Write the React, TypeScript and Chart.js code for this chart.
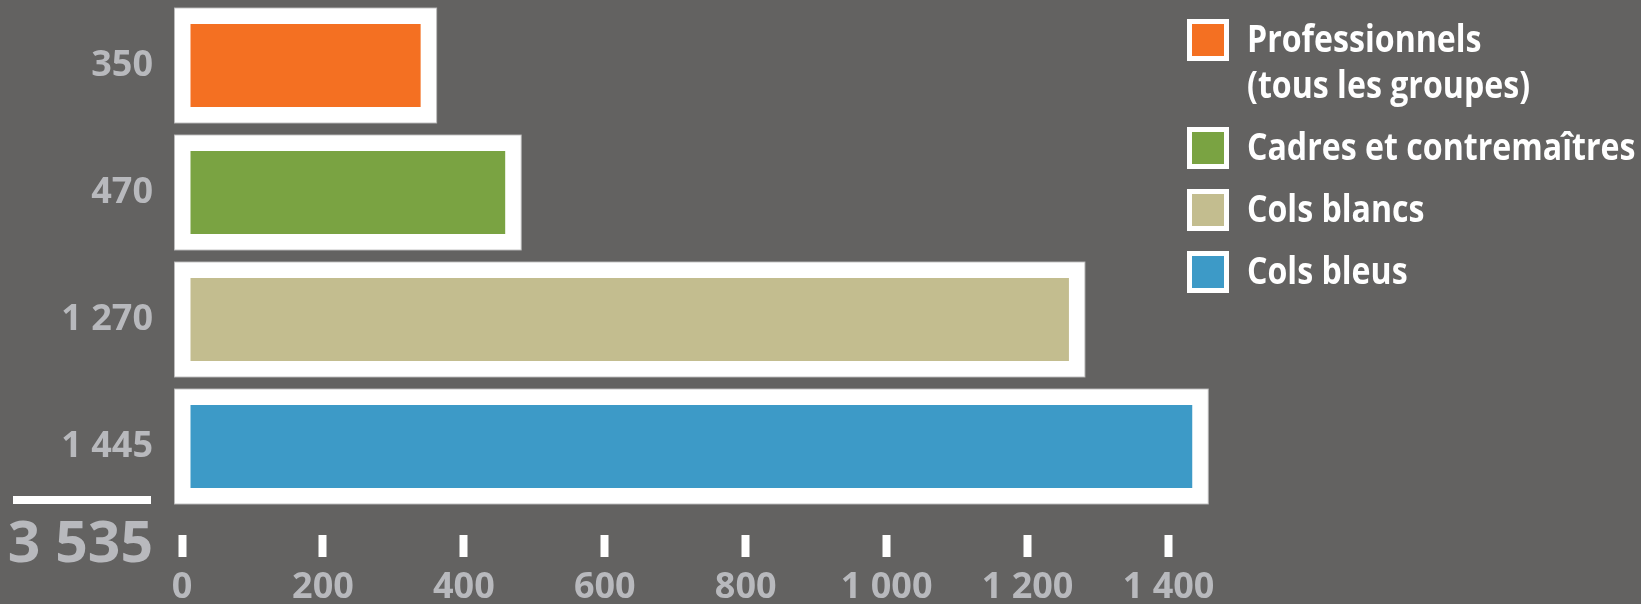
import React, { useEffect, useRef } from "react";
import { Chart, registerables } from "chart.js";

Chart.register(...registerables);

// ---- data ----
const categories = ["Professionnels (tous les groupes)", "Cadres et contremaîtres", "Cols blancs", "Cols bleus"];
const legendLines = [["Professionnels", "(tous les groupes)"], ["Cadres et contremaîtres"], ["Cols blancs"], ["Cols bleus"]];
const values = [350, 470, 1270, 1445];
const barColors = ["#f47022", "#7aa342", "#c3bd8f", "#3d9ac7"];
const xMin = 0;
const xMax = 1500;
const xStep = 200;

const BG = "#636261";
const GRAY = "#b8b9bd";
const FONT = "'Open Sans', 'DejaVu Sans', sans-serif";

const fmt = (n: number) => String(Math.round(n)).replace(/\B(?=(\d{3})+(?!\d))/g, " ");

const barFramePlugin = {
  id: "barFrame",
  afterDatasetsDraw(chart: any) {
    const ctx = chart.ctx;
    const meta = chart.getDatasetMeta(0);
    ctx.save();
    meta.data.forEach((el: any) => {
      const { x, y, base, height } = el.getProps(["x", "y", "base", "height"], true);
      ctx.strokeStyle = "#ffffff";
      ctx.lineWidth = 16;
      ctx.strokeRect(base, y - height / 2, x - base, height);
      ctx.strokeStyle = "rgba(190,190,190,0.9)";
      ctx.lineWidth = 1;
      ctx.strokeRect(base - 8, y - height / 2 - 8, x - base + 16, height + 16);
    });
    ctx.restore();
  },
};

const totalPlugin = {
  id: "totalLabel",
  afterDraw(chart: any) {
    const ctx = chart.ctx;
    const { left, bottom } = chart.chartArea;
    const total = values.reduce((a, b) => a + b, 0);
    ctx.save();
    ctx.fillStyle = "#ffffff";
    ctx.fillRect(left - 169, bottom - 14, 138, 8);
    ctx.fillStyle = GRAY;
    ctx.font = `bold 57px ${FONT}`;
    ctx.textAlign = "right";
    ctx.textBaseline = "middle";
    ctx.fillText(fmt(total), left - 29, bottom + 36);
    ctx.restore();
  },
};

const legendPlugin = {
  id: "customLegend",
  afterDraw(chart: any) {
    const ctx = chart.ctx;
    const boxX = 1187;
    const box = 42;
    const border = 5;
    const textX = 1247;
    const lineH = 46;
    const gap = 62;
    const sx = 0.845;
    let cy = 40;
    ctx.save();
    ctx.font = `bold 38px ${FONT}`;
    ctx.textAlign = "left";
    ctx.textBaseline = "middle";
    legendLines.forEach((lines, i) => {
      ctx.fillStyle = "#ffffff";
      ctx.fillRect(boxX, cy - box / 2, box, box);
      ctx.fillStyle = barColors[i];
      ctx.fillRect(boxX + border, cy - box / 2 + border, box - 2 * border, box - 2 * border);
      ctx.fillStyle = "#ffffff";
      lines.forEach((t, j) => {
        ctx.save();
        ctx.translate(textX, cy + 1 + j * lineH);
        ctx.scale(sx, 1);
        ctx.fillText(t, 0, 0);
        ctx.restore();
      });
      cy += (lines.length - 1) * lineH + gap;
    });
    ctx.restore();
  },
};

export default function App() {
  const ref = useRef<HTMLCanvasElement | null>(null);

  useEffect(() => {
    document.body.style.margin = "0";
    document.body.style.background = BG;
    if (!ref.current) return;
    const chart = new Chart(ref.current, {
      type: "bar",
      data: {
        labels: categories,
        datasets: [
          {
            data: values,
            backgroundColor: barColors,
            borderWidth: 0,
            barThickness: 99,
          },
        ],
      },
      options: {
        indexAxis: "y",
        animation: false,
        responsive: true,
        maintainAspectRatio: false,
        layout: { padding: { top: 2, right: 402, bottom: 0, left: 0 } },
        plugins: {
          legend: { display: false },
          tooltip: { enabled: false },
        },
        scales: {
          x: {
            type: "linear",
            min: xMin,
            max: xMax,
            border: { display: false },
            grid: {
              drawOnChartArea: false,
              tickLength: 47,
              tickWidth: 8,
              tickColor: "#ffffff",
              tickBorderDash: [22, 25],
              tickBorderDashOffset: 22,
            },
            ticks: {
              stepSize: xStep,
              includeBounds: false,
              color: GRAY,
              padding: 9,
              font: { family: FONT, weight: "bold", size: 36 },
              callback: (v: any) => fmt(Number(v)),
            },
            afterFit: (s: any) => {
              s.height = 94;
            },
          },
          y: {
            type: "category",
            border: { display: false },
            grid: { display: false, drawTicks: false },
            ticks: {
              color: GRAY,
              padding: 29,
              font: { family: FONT, weight: "bold", size: 36 },
              callback: (_v: any, i: number) => fmt(values[i]),
            },
            afterFit: (s: any) => {
              s.width = 182;
              s.paddingTop = 0;
              s.paddingBottom = 0;
            },
          },
        },
      } as any,
      plugins: [barFramePlugin, totalPlugin, legendPlugin],
    });
    return () => chart.destroy();
  }, []);

  return (
    <div style={{ width: 1641, height: 604, background: BG, position: "relative" }}>
      <canvas ref={ref} />
    </div>
  );
}
